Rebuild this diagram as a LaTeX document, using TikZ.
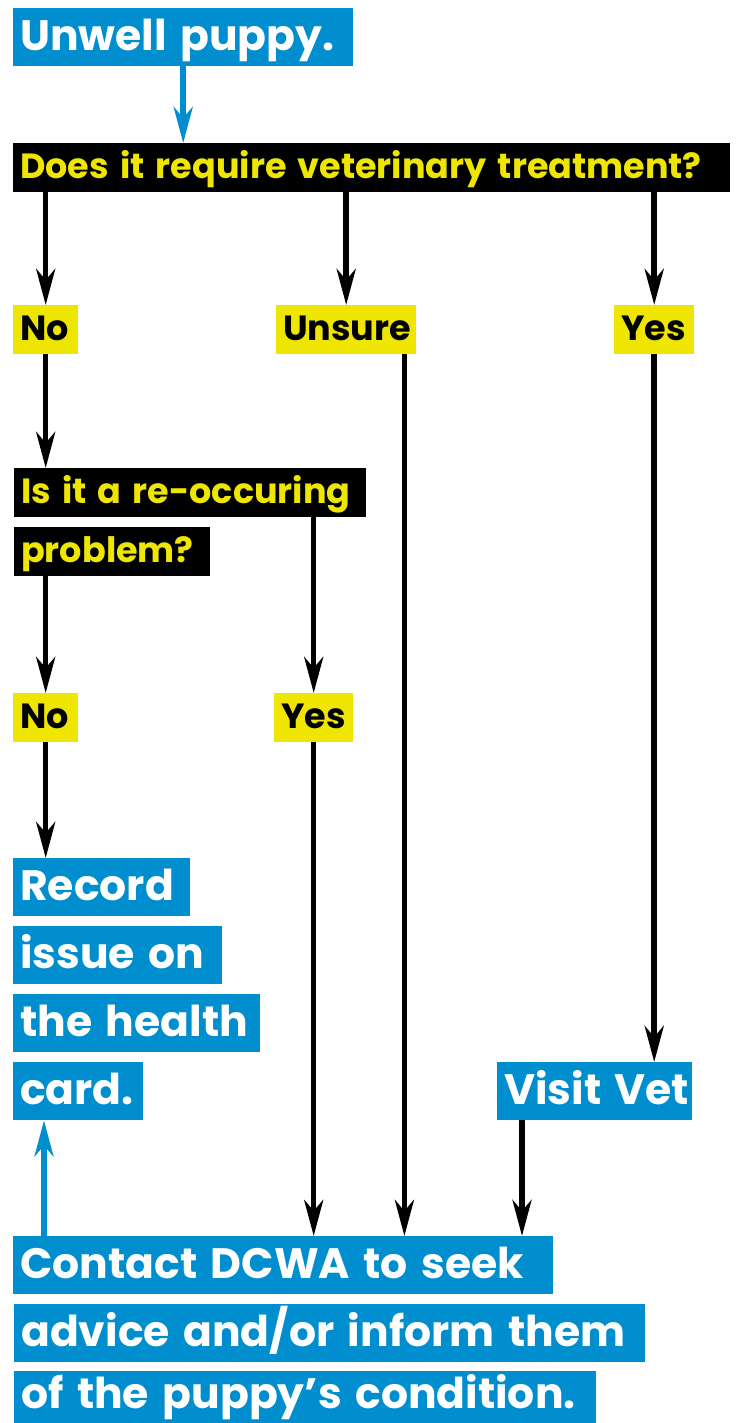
\documentclass[tikz,border=0pt]{standalone}
\usepackage{fontspec}
\setmainfont{Poppins}[WordSpace=1.5]
\usepackage{tikz}
\usetikzlibrary{positioning,arrows.meta}
\usepackage{xcolor}
\definecolor{dcblue}{RGB}{0,142,206}
\definecolor{dcyellow}{RGB}{238,230,0}
% fixed-width line of text, left aligned
\newcommand{\wline}[2]{\makebox[#1][l]{#2}}

\begin{document}
\begin{tikzpicture}[x=1pt, y=-1pt, >={Stealth[length=36pt, width=19pt, inset=11pt]},
    tag/.style={anchor=north west, inner xsep=7pt, inner ysep=0pt, font=\bfseries},
    info/.style={tag, fill=dcblue, text=white, text height=42pt, text depth=16pt,
      font=\bfseries\fontsize{42.5}{46}\selectfont},
    ask/.style={tag, fill=black, text=dcyellow, text height=35pt, text depth=14pt,
      font=\bfseries\fontsize{35}{40}\selectfont},
    reply/.style={ask, fill=dcyellow, text=black},
    flow/.style={->, line width=5.5pt},
    back/.style={flow, draw=dcblue}]

\useasboundingbox[fill=white] (0,0) rectangle (743,1423);

\node[info] (U) at (13,8) {\wline{326pt}{Unwell puppy.}};
\node[ask] (Q1) at (13,143) {\wline{703pt}{Does it require veterinary treatment?}};
\node[reply] (N1) at (13,305) {\wline{51pt}{No}};
\node[reply] (S) at (276,305) {\wline{126pt}{Unsure}};
\node[reply] (Y1) at (614,305) {\wline{66pt}{Yes}};
\node[ask] (Q2a) at (14,468) {\wline{338pt}{Is it a re-occuring}};
\node[ask] (Q2b) at (14,527) {\wline{182pt}{problem?}};
\node[reply] (N2) at (13,693) {\wline{51pt}{No}};
\node[reply] (Y2) at (274,693) {\wline{65pt}{Yes}};
\node[info] (R1) at (13,858) {\wline{163pt}{Record}};
\node[info] (R2) at (13,926) {\wline{195pt}{issue on}};
\node[info] (R3) at (13,994) {\wline{233pt}{the health}};
\node[info] (R4) at (13,1062) {\wline{116pt}{card.}};
\node[info] (V) at (497,1062) {\wline{181pt}{Visit Vet}};
\node[info] (C1) at (13,1236) {\wline{526pt}{Contact DCWA to seek}};
\node[info] (C2) at (14,1304) {\wline{617pt}{advice and/or inform them}};
\node[info] (C3) at (14,1371) [text height=37pt, text depth=15pt] {\wline{568pt}{of the puppy’s condition.}};

\coordinate (Sx) at ([xshift=-12pt]S.south east);
\coordinate (Vx) at ([xshift=25pt]V.south west);
\coordinate (Cx) at ([xshift=31pt]C1.north west);

\draw[back] (U) -- (U |- Q1.north);
\draw[flow] (Q1.south -| N1) -- (N1);
\draw[flow] (Q1.south -| S) -- (S);
\draw[flow] (Q1.south -| Y1) -- (Y1);
\draw[flow] (N1) -- (Q2a.north -| N1);
\draw[flow] (Q2b.south -| N2) -- (N2);
\draw[flow] (Q2a.south -| Y2) -- (Y2);
\draw[flow] (N2) -- (R1.north -| N2);
\draw[flow] (Y2) -- (C1.north -| Y2);
\draw[flow] (Sx) -- (Sx |- C1.north);
\draw[flow] (Y1) -- (V.north -| Y1);
\draw[flow] (Vx) -- (Vx |- C1.north);
\draw[back] (Cx) -- (Cx |- R4.south);
\end{tikzpicture}
\end{document}
